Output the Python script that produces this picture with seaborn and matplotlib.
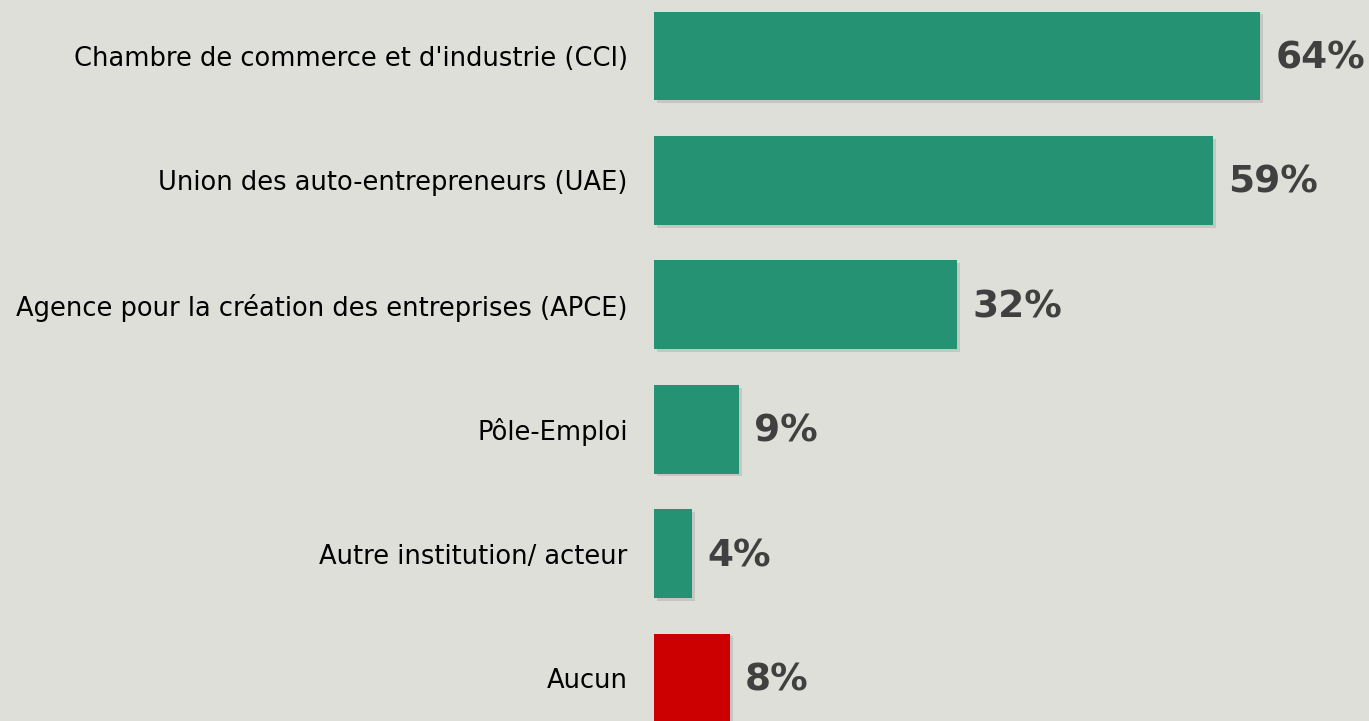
# Imports
import matplotlib
matplotlib.use("Agg")
import matplotlib.pyplot as plt
import matplotlib.patheffects as pe
import pandas as pd
import seaborn as sns

# Data
categories = [
    "Chambre de commerce et d'industrie (CCI)",
    "Union des auto-entrepreneurs (UAE)",
    "Agence pour la création des entreprises (APCE)",
    "Pôle-Emploi",
    "Autre institution/ acteur",
    "Aucun",
]
values = [64, 59, 32, 9, 4, 8]
bar_colors = ["#259373", "#259373", "#259373", "#259373", "#259373", "#CC0000"]

bg = "#DFDFDA"
df = pd.DataFrame({"categorie": categories, "valeur": values})

sns.set_style("white")
plt.rcParams["font.family"] = ["DejaVu Sans"]

fig = plt.figure(figsize=(13.69, 7.21), dpi=100, facecolor=bg)
ax = fig.add_axes([654 / 1369, 0, 1 - 654 / 1369, 1])
ax.set_facecolor(bg)

sns.barplot(data=df, x="valeur", y="categorie", hue="categorie",
            palette=bar_colors, legend=False, width=0.715, ax=ax,
            saturation=1, linewidth=0, edgecolor="none")

# Soft drop shadow on the bars
for patch in ax.patches:
    patch.set_path_effects([pe.withSimplePatchShadow(offset=(2, -2), alpha=0.14,
                                                     shadow_rgbFace="#333333"),
                            pe.Normal()])

# Value labels
for i, v in enumerate(values):
    ax.text(v + 1.6, i + 0.02, f"{v}%", va="center", ha="left", fontsize=27,
            fontweight="bold", color="#404040")

ax.set_xlim(0, 75.5)
ax.set_ylim(5.345, -0.45)
ax.set_xlabel("")
ax.set_ylabel("")
ax.set_xticks([])
ax.tick_params(axis="y", length=0, pad=19, labelsize=18.5, labelcolor="#000000")
sns.despine(ax=ax, left=True, bottom=True)

fig.savefig("out.png", dpi=100, facecolor=bg)
